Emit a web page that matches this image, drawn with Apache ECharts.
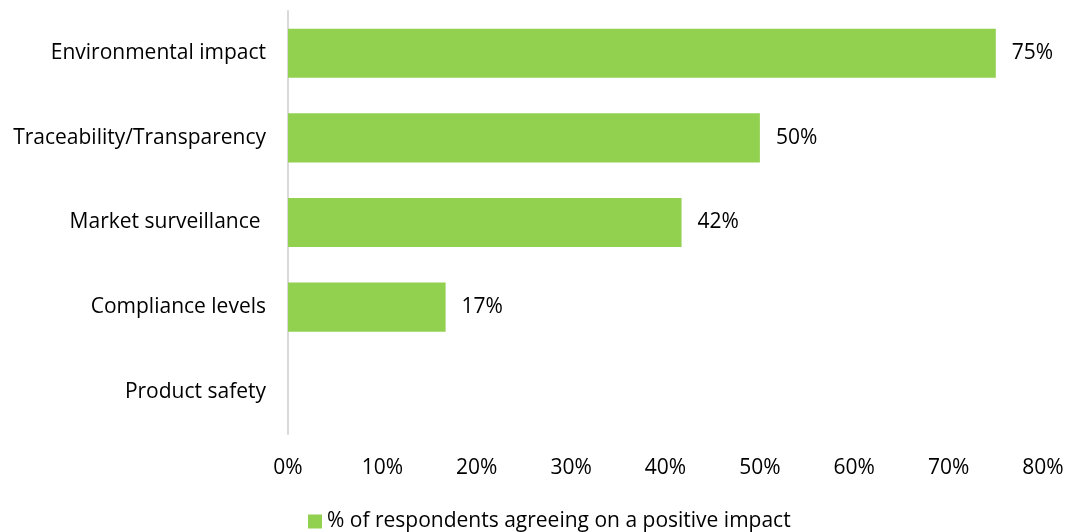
<!doctype html>
<html lang="en">
<head>
    <meta charset="UTF-8">
    <title>Positive impact</title>
    <script src="https://cdn.jsdelivr.net/npm/echarts@6/dist/echarts.min.js"></script>
    <style>
        html, body { margin: 0; padding: 0; background: #fff; }
        #main { width: 1069px; height: 532px; }
    </style>
</head>
<body>
<div id="main"></div>
<script>
    var categories = ['Environmental impact', 'Traceability/Transparency', 'Market surveillance ', 'Compliance levels', 'Product safety'];
    // shares (labels show them rounded)
    var values = [75, 50, 41.7, 16.7, 0];
    var seriesName = '% of respondents agreeing on a positive impact';
    var font = 'Open Sans';
    var fs = 21;

    var myChart = echarts.init(document.getElementById('main'));
    var option = {
        animation: false,
        textStyle: { fontFamily: font },
        grid: { left: 288, right: 26, top: 11, bottom: 98 },
        legend: {
            bottom: -5,
            left: 303,
            itemWidth: 14,
            itemHeight: 14,
            itemGap: 6,
            icon: 'rect',
            textStyle: { fontSize: fs, color: '#000', fontFamily: font },
            data: [seriesName]
        },
        xAxis: {
            type: 'value',
            min: 0,
            max: 80,
            interval: 10,
            axisLine: { show: false },
            axisTick: { show: false },
            splitLine: { show: false },
            axisLabel: {
                formatter: '{value}%',
                fontSize: fs,
                color: '#000',
                margin: 24
            }
        },
        yAxis: {
            type: 'category',
            inverse: true,
            data: categories,
            axisLine: { show: true, lineStyle: { color: '#D9D9D9', width: 2 } },
            axisTick: { show: false },
            axisLabel: { fontSize: fs, color: '#000', margin: 22 }
        },
        series: [{
            name: seriesName,
            type: 'bar',
            data: values,
            barWidth: '58%',
            itemStyle: { color: '#92D050' },
            label: {
                show: true,
                position: 'right',
                distance: 16,
                fontSize: fs,
                color: '#000',
                formatter: function (p) { return p.value ? Math.round(p.value) + '%' : ''; }
            }
        }]
    };
    myChart.setOption(option);
</script>
</body>
</html>
